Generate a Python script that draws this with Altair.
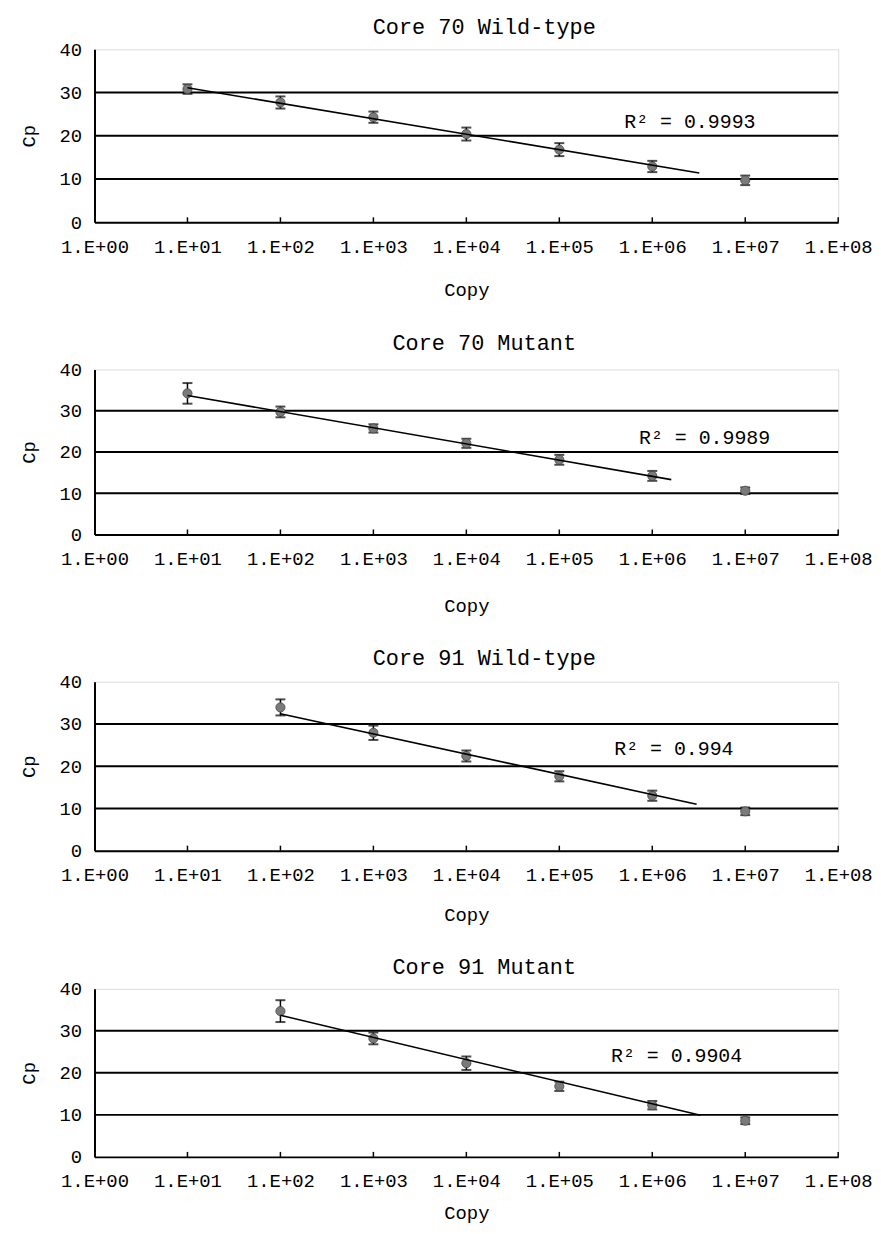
import altair as alt
import pandas as pd

FONT = "Liberation Mono"

titles = ["Core 70 Wild-type", "Core 70 Mutant", "Core 91 Wild-type", "Core 91 Mutant"]
copies_70 = [1e1, 1e2, 1e3, 1e4, 1e5, 1e6, 1e7]
copies_91 = [1e2, 1e3, 1e4, 1e5, 1e6, 1e7]
cp_70_wt = [30.8, 27.7, 24.3, 20.4, 16.8, 12.9, 9.7]
sd_70_wt = [1.1, 1.4, 1.3, 1.5, 1.5, 1.3, 1.1]
cp_70_mut = [34.2, 29.7, 25.7, 22.1, 18.1, 14.2, 10.6]
sd_70_mut = [2.5, 1.3, 1.0, 1.1, 1.2, 1.2, 0.8]
cp_91_wt = [33.9, 27.9, 22.4, 17.6, 13.0, 9.3]
sd_91_wt = [1.9, 1.7, 1.3, 1.2, 1.2, 0.9]
cp_91_mut = [34.7, 28.2, 22.3, 16.8, 12.3, 8.6]
sd_91_mut = [2.6, 1.4, 1.6, 1.1, 1.0, 0.8]

# trend line end points (Copy, Cp)
trend_x = [[1e1, 3.2e6], [1e1, 1.6e6], [1e2, 3.0e6], [1e2, 3.3e6]]
trend_y = [[31.1, 11.4], [33.7, 13.3], [32.4, 11.0], [33.7, 9.9]]

r2_labels = ["R² = 0.9993", "R² = 0.9989", "R² = 0.994", "R² = 0.9904"]
r2_x = [5.0e5, 7.2e5, 3.9e5, 3.6e5]
r2_y = [23.2, 23.4, 24.0, 24.1]

grid_values = [10, 20, 30]
decades = [1, 1e1, 1e2, 1e3, 1e4, 1e5, 1e6, 1e7, 1e8]

W = 748
heights = [174, 166, 170, 169]
title_offsets = [1, 6, 3, 1]
copy_pads = [25, 28, 21, 13]
cp_pads = [21, 21, 21, 21]

panels = [
    (copies_70, cp_70_wt, sd_70_wt),
    (copies_70, cp_70_mut, sd_70_mut),
    (copies_91, cp_91_wt, sd_91_wt),
    (copies_91, cp_91_mut, sd_91_mut),
]


def make_panel(i):
    copies, cp, sd = panels[i]
    H = heights[i]
    xscale = alt.Scale(type="log", domain=[1, 1e8], nice=False)
    yscale = alt.Scale(domain=[0, 40], nice=False, zero=True)
    xaxis = alt.Axis(
        values=decades,
        labelExpr="'1.E+0' + round(log(datum.value) / LN10)",
        ticks=False, grid=False, domainColor="black", domainWidth=2,
        labelFont=FONT, labelFontSize=19, labelColor="black", labelPadding=15,
        labelFlush=False, labelOverlap=False,
        title="Copy", titleFont=FONT, titleFontSize=19, titleFontWeight="normal",
        titleColor="black", titlePadding=copy_pads[i],
    )
    yaxis = alt.Axis(
        values=[0, 10, 20, 30, 40], ticks=False, grid=False,
        domainColor="black", domainWidth=2,
        labelFont=FONT, labelFontSize=19, labelColor="black", labelPadding=13,
        title="Cp", titleFont=FONT, titleFontSize=19, titleFontWeight="normal",
        titleColor="black", titlePadding=cp_pads[i],
    )
    X = lambda: alt.X("copy:Q", scale=xscale, axis=xaxis)
    Y = lambda f="cp": alt.Y(f"{f}:Q", scale=yscale, axis=yaxis)

    df = pd.DataFrame({"copy": copies, "cp": cp, "sd": sd})
    df["lo"] = df["cp"] - df["sd"]
    df["hi"] = df["cp"] + df["sd"]

    grid = alt.Chart(pd.DataFrame({"cp": grid_values})).mark_rule(
        color="black", strokeWidth=2
    ).encode(y=Y(), x=alt.value(0), x2=alt.value(W))

    ticks = alt.Chart(pd.DataFrame({"copy": decades[1:]})).mark_rule(
        color="black", strokeWidth=1.5
    ).encode(x=X(), y=alt.value(H - 5), y2=alt.value(H))

    bars = alt.Chart(df).mark_rule(color="black", strokeWidth=1.5).encode(
        x=X(), y=Y("lo"), y2="hi:Q"
    )
    cap_lo = alt.Chart(df).mark_tick(
        color="black", orient="horizontal", size=10, thickness=2
    ).encode(x=X(), y=Y("lo"))
    cap_hi = alt.Chart(df).mark_tick(
        color="black", orient="horizontal", size=10, thickness=2
    ).encode(x=X(), y=Y("hi"))

    pts = alt.Chart(df).mark_point(
        shape="circle", filled=True, size=85, color="#7a7a7a",
        stroke="#444444", strokeWidth=0.8, opacity=1
    ).encode(x=X(), y=Y())

    tdf = pd.DataFrame({"copy": trend_x[i], "cp": trend_y[i]})
    trend = alt.Chart(tdf).mark_line(color="black", strokeWidth=1.6).encode(
        x=X(), y=Y()
    )

    rdf = pd.DataFrame({"copy": [r2_x[i]], "cp": [r2_y[i]], "label": [r2_labels[i]]})
    r2 = alt.Chart(rdf).mark_text(
        align="left", baseline="middle", font=FONT, fontSize=20, color="black"
    ).encode(x=X(), y=Y(), text="label:N")

    return alt.layer(grid, ticks, bars, cap_lo, cap_hi, pts, trend, r2).properties(
        width=W, height=H,
        title=alt.TitleParams(
            titles[i], font=FONT, fontSize=22, fontWeight="normal",
            color="black", anchor="middle", offset=title_offsets[i], dx=18,
        ),
    )


chart = alt.vconcat(*[make_panel(i) for i in range(4)], spacing=30).properties(
    padding={"left": 10, "top": 4, "right": 0, "bottom": 0}
).configure_view(
    stroke="#9a9a9a", strokeDash=[2, 2], strokeWidth=1
).configure_title(
    fontWeight="normal"
).configure(background="white")

chart.save("out.html", embed_options={"renderer": "svg", "actions": False})
